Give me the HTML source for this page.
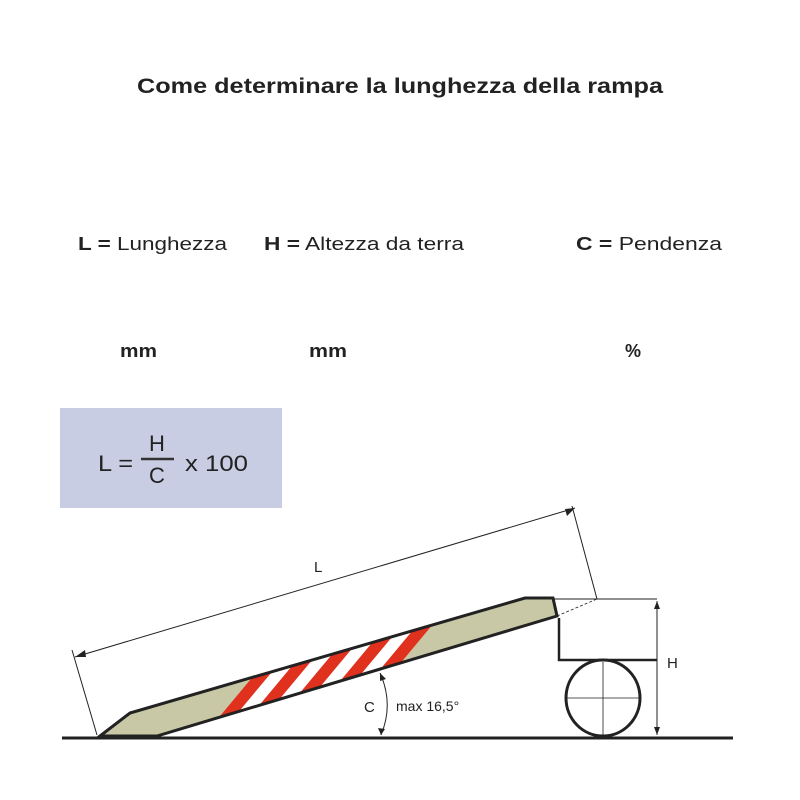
<!DOCTYPE html>
<html><head><style>
body{margin:0;background:#fff;}
svg{display:block;}
text{font-family:"Liberation Sans",sans-serif;fill:#222;}
</style></head><body>
<svg width="800" height="800" viewBox="0 0 800 800">
<defs><clipPath id="rc"><path d="M100,736 L130,713 L525,598 L553,598 L557,616 L157,736 Z"/></clipPath></defs>
<text x="137" y="93" font-size="21" font-weight="bold" textLength="526" lengthAdjust="spacingAndGlyphs">Come determinare la lunghezza della rampa</text>
<text x="78" y="250" font-size="18" textLength="149" lengthAdjust="spacingAndGlyphs"><tspan font-weight="bold">L =</tspan> Lunghezza</text>
<text x="264" y="250" font-size="18" textLength="200" lengthAdjust="spacingAndGlyphs"><tspan font-weight="bold">H =</tspan>  Altezza da terra</text>
<text x="576" y="250" font-size="18" textLength="146" lengthAdjust="spacingAndGlyphs"><tspan font-weight="bold">C =</tspan>  Pendenza</text>
<text x="120" y="357" font-size="18" font-weight="bold" textLength="37" lengthAdjust="spacingAndGlyphs">mm</text>
<text x="309" y="357" font-size="18" font-weight="bold" textLength="38" lengthAdjust="spacingAndGlyphs">mm</text>
<text x="625" y="357" font-size="18" font-weight="bold">%</text>
<rect x="60" y="408" width="222" height="100" fill="#c9cde3"/>
<text x="98" y="471" font-size="22" textLength="35" lengthAdjust="spacingAndGlyphs">L =</text>
<text x="157" y="451" font-size="22" text-anchor="middle">H</text>
<line x1="141" y1="459" x2="174" y2="459" stroke="#333" stroke-width="2.5"/>
<text x="157" y="483" font-size="22" text-anchor="middle">C</text>
<text x="185" y="471" font-size="22" textLength="63" lengthAdjust="spacingAndGlyphs">x 100</text>
<path d="M100,736 L130,713 L525,598 L553,598 L557,616 L157,736 Z" fill="#c8c8a6"/>
<g clip-path="url(#rc)">
<polygon points="212.5,725 392.5,672.8 442.5,612.8 262.5,665" fill="#fff"/>
<g fill="#e0301e">
<polygon points="212.5,725 232.5,719.2 282.5,659.2 262.5,665"/>
<polygon points="252.5,713.4 272.5,707.6 322.5,647.6 302.5,653.4"/>
<polygon points="292.5,701.8 312.5,696 362.5,636 342.5,641.8"/>
<polygon points="332.5,690.2 352.5,684.4 402.5,624.4 382.5,630.2"/>
<polygon points="372.5,678.6 392.5,672.8 442.5,612.8 422.5,618.6"/>
</g>
</g>
<g stroke="#222" fill="none">
<line x1="62" y1="738" x2="733" y2="738" stroke-width="3"/>
<path d="M100,736 L130,713 L525,598 L553,598 L557,616 L157,736 Z" stroke-width="3"/>
<line x1="553" y1="599" x2="657" y2="599" stroke-width="1"/>
<path d="M559,618 L559,660 L657,660" stroke-width="2.5"/>
<ellipse cx="603" cy="698" rx="37" ry="38" stroke-width="3"/>
<line x1="603" y1="662" x2="603" y2="736" stroke-width="0.8"/>
<line x1="567" y1="698" x2="640" y2="698" stroke-width="0.8"/>
<line x1="657" y1="601" x2="657" y2="735" stroke-width="1"/>
<line x1="75" y1="657" x2="575" y2="508" stroke-width="1"/>
<line x1="72" y1="650" x2="97" y2="735" stroke-width="1"/>
<line x1="572" y1="506" x2="597" y2="599" stroke-width="1"/>
<line x1="557" y1="616" x2="597" y2="599" stroke-width="0.8" stroke-dasharray="3,2"/>
<path d="M380,673 Q394,704 381,735" stroke-width="1"/>
</g>
<g fill="#222">
<polygon points="75,657 85,650 86,657"/>
<polygon points="575,508 565,509 567,516"/>
<polygon points="657,601 654,609 660,609"/>
<polygon points="657,735 654,727 660,727"/>
<polygon points="380,673 380,681 386,679"/>
<polygon points="381,735 378,728 385,729"/>
</g>
<text x="314" y="572" font-size="15">L</text>
<text x="667" y="668" font-size="15">H</text>
<text x="364" y="712" font-size="15">C</text>
<text x="396" y="711" font-size="14">max 16,5°</text>
</svg>
</body></html>
